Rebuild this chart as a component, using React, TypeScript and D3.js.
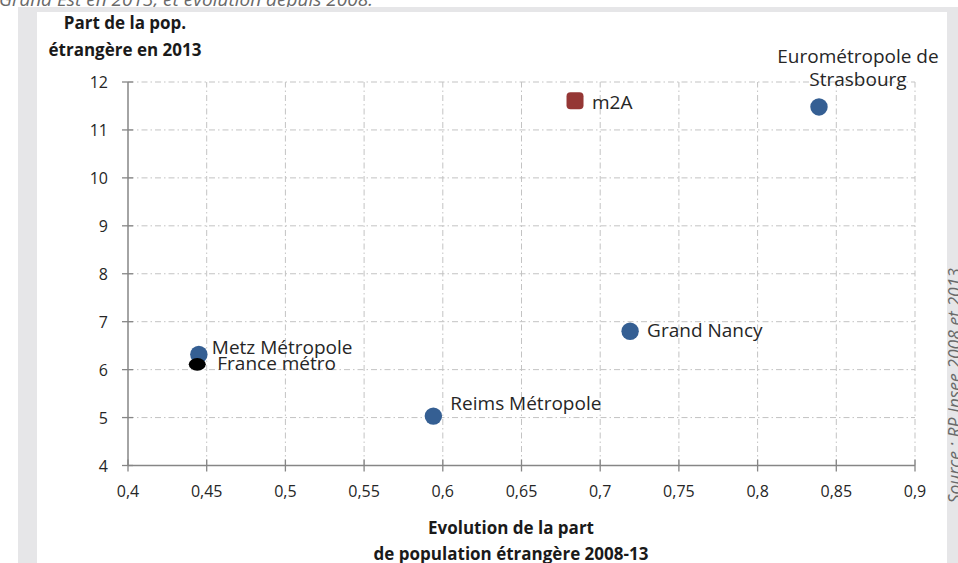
import React from "react";
import * as d3 from "d3";

const names = ["Eurométropole de Strasbourg", "m2A", "Grand Nancy", "Reims Métropole", "Metz Métropole", "France métro"];
const xValues = [0.839, 0.684, 0.719, 0.594, 0.445, 0.444];
const yValues = [11.48, 11.61, 6.8, 5.03, 6.315, 6.11];
const kinds = ["circle", "square", "circle", "circle", "circle", "ellipse"];
const xTicks = [0.4, 0.45, 0.5, 0.55, 0.6, 0.65, 0.7, 0.75, 0.8, 0.85, 0.9];
const yTicks = [4, 5, 6, 7, 8, 9, 10, 11, 12];

const W = 958;
const H = 563;
const FONT = "'Open Sans', 'Noto Sans', sans-serif";
const fmt = (v: number) => String(v).replace(".", ",");

export default function App() {
  const x = d3.scaleLinear().domain([0.4, 0.9]).range([128, 915]);
  const y = d3.scaleLinear().domain([4, 12]).range([465.5, 82]);
  const blue = "#355f93";
  const red = "#953735";
  const axisCol = "#868686";
  const gridCol = "#c3c3c3";
  const dash = "6 3 1.5 3";

  const labelProps: Record<string, { dx: number; dy: number; anchor: string; lines?: string[] }> = {
    "Eurométropole de Strasbourg": { dx: 39, dy: -44, anchor: "middle", lines: ["Eurométropole de", "Strasbourg"] },
    "m2A": { dx: 17, dy: 8, anchor: "start" },
    "Grand Nancy": { dx: 17, dy: 6, anchor: "start" },
    "Reims Métropole": { dx: 17, dy: -6, anchor: "start" },
    "Metz Métropole": { dx: 13, dy: -1, anchor: "start" },
    "France métro": { dx: 20, dy: 6, anchor: "start" },
  };

  return (
    <svg width={W} height={H} style={{ position: "absolute", left: 0, top: 0, background: "#fff" }} fontFamily={FONT}>
      <rect x={0} y={0} width={W} height={H} fill="#fff" />
      <text x={-1} y={6} fontSize={19} fontStyle="italic" fill="#6a6a6a">Grand Est en 2013, et évolution depuis 2008.</text>
      <rect x={18} y={7} width={W - 18} height={H - 7} fill="#e6e6e8" />
      <rect x={37} y={12} width={910} height={H - 12} fill="#fff" />
      <text transform={`translate(961,268) rotate(-90)`} fontSize={17.5} fontStyle="italic" fill="#6a6a6a" textAnchor="end">Source : RP Insee 2008 et 2013</text>

      {/* grid */}
      {yTicks.filter((t) => t !== 4).map((t) => (
        <line key={"gy" + t} x1={x(0.4)} x2={x(0.9)} y1={y(t)} y2={y(t)} stroke={gridCol} strokeWidth={1} strokeDasharray={dash} />
      ))}
      {xTicks.filter((t) => t !== 0.4).map((t) => (
        <line key={"gx" + t} x1={x(t)} x2={x(t)} y1={y(4)} y2={y(12)} stroke={gridCol} strokeWidth={1} strokeDasharray={dash} />
      ))}

      {/* axes */}
      <line x1={x(0.4)} x2={x(0.4)} y1={y(4)} y2={y(12)} stroke={axisCol} strokeWidth={1.5} />
      <line x1={x(0.4)} x2={x(0.9)} y1={y(4)} y2={y(4)} stroke={axisCol} strokeWidth={1.5} />
      {yTicks.map((t) => (
        <g key={"ty" + t}>
          <line x1={x(0.4) - 6} x2={x(0.4) + 5} y1={y(t)} y2={y(t)} stroke={axisCol} strokeWidth={1.3} />
          <text x={108} y={y(t) + 6} fontSize={16} textAnchor="end" fill="#262626">{fmt(t)}</text>
        </g>
      ))}
      {xTicks.map((t) => (
        <g key={"tx" + t}>
          <line x1={x(t)} x2={x(t)} y1={y(4) - 6} y2={y(4) + 6} stroke={axisCol} strokeWidth={1.3} />
          <text x={x(t)} y={497} fontSize={16} textAnchor="middle" fill="#262626">{fmt(t)}</text>
        </g>
      ))}

      {/* axis titles */}
      <text x={125} y={29} fontSize={17} fontWeight="bold" textAnchor="middle" fill="#1a1a1a">Part de la pop.</text>
      <text x={125} y={56} fontSize={17} fontWeight="bold" textAnchor="middle" fill="#1a1a1a">étrangère en 2013</text>
      <text x={511} y={534} fontSize={17} fontWeight="bold" textAnchor="middle" fill="#1a1a1a">Evolution de la part</text>
      <text x={511} y={560} fontSize={17} fontWeight="bold" textAnchor="middle" fill="#1a1a1a">de population étrangère 2008-13</text>

      {/* points */}
      {names.map((n, i) => {
        const cx = x(xValues[i]);
        const cy = y(yValues[i]);
        const k = kinds[i];
        if (k === "square") return <rect key={n} x={cx - 8.5} y={cy - 8.5} width={17} height={17} rx={4} fill={red} />;
        if (k === "ellipse") return <ellipse key={n} cx={cx} cy={cy} rx={8.5} ry={6.3} fill="#000" />;
        return <circle key={n} cx={cx} cy={cy} r={8.7} fill={blue} />;
      })}

      {/* labels */}
      {names.map((n, i) => {
        const cx = x(xValues[i]);
        const cy = y(yValues[i]);
        const p = labelProps[n];
        const lines = p.lines || [n];
        return (
          <text key={"l" + n} x={cx + p.dx} y={cy + p.dy} fontSize={19} textAnchor={p.anchor} fill="#262626">
            {lines.map((l, j) => (
              <tspan key={j} x={cx + p.dx} dy={j === 0 ? 0 : 23}>{l}</tspan>
            ))}
          </text>
        );
      })}
    </svg>
  );
}
